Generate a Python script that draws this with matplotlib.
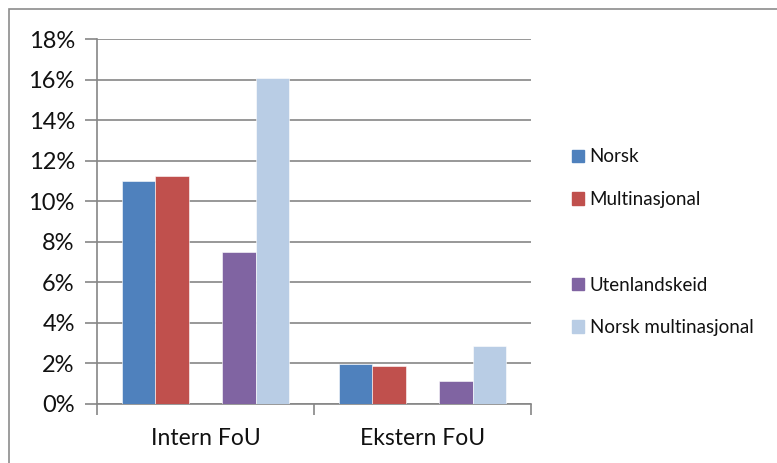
import numpy as np
import matplotlib.pyplot as plt
from matplotlib.patches import Patch, Rectangle
from matplotlib.ticker import FuncFormatter, MultipleLocator

categories = ['Intern FoU', 'Ekstern FoU']
series_names = ['Norsk', 'Multinasjonal', 'Utenlandskeid', 'Norsk multinasjonal']
norsk = [11.0, 1.96]
multinasjonal = [11.24, 1.89]
utenlandskeid = [7.48, 1.12]
norsk_multinasjonal = [16.1, 2.86]

values = [norsk, multinasjonal, utenlandskeid, norsk_multinasjonal]
colors = ['#4F81BD', '#C0504D', '#8064A2', '#B9CDE5']
slots = [0, 1, 3, 4]   # slot 2 is an empty series in the workbook

plt.rcParams['font.family'] = ['Lato', 'DejaVu Sans']

W, H = 777, 463
fig = plt.figure(figsize=(W / 100, H / 100), dpi=100)
ax = fig.add_axes([97 / W, 1 - 404 / H, (531 - 97) / W, (404 - 39) / H])

# chart area border (only top/left visible)
fig.patches.append(Rectangle((9 / W, -0.1), 1.2, 1 - 9 / H + 0.1, transform=fig.transFigure,
                             fill=False, edgecolor='#8c8c8c', linewidth=1.2))

x = np.arange(len(categories))
w = 1 / 6.5
for vals, name, col, s in zip(values, series_names, colors, slots):
    ax.bar(x + (s - 2) * w, vals, width=w, color=col, label=name, zorder=3,
           edgecolor='white', linewidth=0.4)

ax.set_xlim(-0.5, 1.5)
ax.set_ylim(0, 18)
ax.yaxis.set_major_locator(MultipleLocator(2))
ax.yaxis.set_major_formatter(FuncFormatter(lambda v, p: f'{v:.0f}%'))
ax.grid(axis='y', color='#868686', linewidth=1.2, zorder=0)

ax.set_xticks([-0.5, 0.5, 1.5])
ax.set_xticklabels([])
ax.set_xticks(x, minor=True)
ax.set_xticklabels(categories, minor=True)
ax.tick_params(axis='x', which='minor', length=0, pad=17, labelsize=16.5, labelcolor='#111111')
ax.tick_params(axis='x', which='major', length=8, color='#868686', width=1.2)
ax.tick_params(axis='y', length=9, color='#868686', width=1.2, labelsize=17, pad=7,
               labelcolor='#111111')

for side in ['top', 'right']:
    ax.spines[side].set_visible(False)
for side in ['left', 'bottom']:
    ax.spines[side].set_color('#868686')
    ax.spines[side].set_linewidth(1.2)

handles = [Patch(color=c) for c in colors]
handles.insert(2, Patch(color='none'))
labels = series_names[:2] + [''] + series_names[2:]
leg = fig.legend(handles, labels, loc='upper left', bbox_to_anchor=(564.5 / W, 1 - 141 / H),
                 frameon=False, fontsize=13.5, handlelength=0.64, handleheight=0.64,
                 handletextpad=0.3, labelspacing=1.37, borderaxespad=0, labelcolor='#111111')

fig.savefig('out.png', dpi=100, facecolor='white')
